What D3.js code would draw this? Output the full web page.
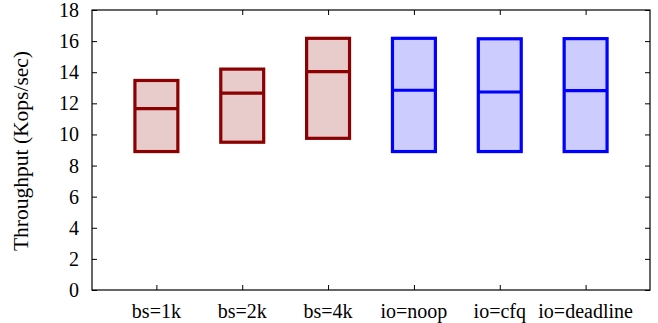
<!DOCTYPE html>
<html>
<head>
<meta charset="utf-8">
<script src="https://cdn.jsdelivr.net/npm/d3@7"></script>
<style>
  body { margin: 0; background: #fff; }
  text { font-family: "Liberation Serif", "Times New Roman", serif; }
</style>
</head>
<body>
<div id="chart"></div>
<script>
var
	categories = ["bs=1k", "bs=2k", "bs=4k", "io=noop", "io=cfq", "io=deadline"],
	boxLow     = [8.9, 9.5, 9.75, 8.9, 8.9, 8.9],
	boxMedian  = [11.66, 12.65, 14.04, 12.84, 12.73, 12.82],
	boxHigh    = [13.47, 14.2, 16.18, 16.18, 16.15, 16.16],
	groups     = ["bs", "bs", "bs", "io", "io", "io"],
	yTicks     = [0, 2, 4, 6, 8, 10, 12, 14, 16, 18];

var
	W = 658, H = 323,
	plotLeft = 92, plotRight = 650, plotTop = 10, plotBottom = 290,
	colors = { bs: "#8b0000", io: "#0000ff" },
	boxWidth = 0.5,

	x = d3.scaleLinear().domain([0.25, 6.75]).range([plotLeft, plotRight]),
	y = d3.scaleLinear().domain([0, 18]).range([plotBottom, plotTop]),

	svg = d3.select("#chart")
			.append("svg")
			.attr("width", W)
			.attr("height", H);

// boxes
var data = categories.map(function(c, i){
	return { name: c, pos: i + 1, lo: boxLow[i], med: boxMedian[i], hi: boxHigh[i], col: colors[groups[i]] };
});

var box = svg.append("g").selectAll("g")
	.data(data)
	.enter().append("g");

box.append("rect")
	.attr("x", function(d){ return x(d.pos - boxWidth/2); })
	.attr("y", function(d){ return y(d.hi); })
	.attr("width", function(d){ return x(d.pos + boxWidth/2) - x(d.pos - boxWidth/2); })
	.attr("height", function(d){ return y(d.lo) - y(d.hi); })
	.style("fill", function(d){ return d.col; })
	.style("fill-opacity", 0.2)
	.style("stroke", function(d){ return d.col; })
	.style("stroke-width", 3.2);

box.append("line")
	.attr("x1", function(d){ return x(d.pos - boxWidth/2); })
	.attr("x2", function(d){ return x(d.pos + boxWidth/2); })
	.attr("y1", function(d){ return y(d.med); })
	.attr("y2", function(d){ return y(d.med); })
	.style("stroke", function(d){ return d.col; })
	.style("stroke-width", 3.2);

// axes
var axisG = svg.append("g");

axisG.append("g")
	.attr("transform", "translate(" + plotLeft + ",0)")
	.call(d3.axisRight(y).tickValues(yTicks).tickSize(5).tickFormat(""))
	.call(function(g){ g.select(".domain").remove(); });

axisG.append("g")
	.attr("transform", "translate(" + plotRight + ",0)")
	.call(d3.axisLeft(y).tickValues(yTicks).tickSize(5).tickFormat(""))
	.call(function(g){ g.select(".domain").remove(); });

axisG.append("g")
	.attr("transform", "translate(0," + plotBottom + ")")
	.call(d3.axisTop(x).tickValues(d3.range(1, categories.length + 1)).tickSize(5).tickFormat(""))
	.call(function(g){ g.select(".domain").remove(); });

axisG.append("g")
	.attr("transform", "translate(0," + plotTop + ")")
	.call(d3.axisBottom(x).tickValues(d3.range(1, categories.length + 1)).tickSize(5).tickFormat(""))
	.call(function(g){ g.select(".domain").remove(); });

axisG.selectAll(".tick line").style("stroke", "#000").style("stroke-width", 1);

axisG.append("rect")
	.attr("x", plotLeft)
	.attr("y", plotTop)
	.attr("width", plotRight - plotLeft)
	.attr("height", plotBottom - plotTop)
	.style("fill", "none")
	.style("stroke", "#000")
	.style("stroke-width", 1.2);

// tick labels
svg.append("g").selectAll("text")
	.data(yTicks)
	.enter().append("text")
	.attr("x", 79)
	.attr("y", function(d){ return y(d); })
	.attr("dy", "0.35em")
	.attr("text-anchor", "end")
	.style("font-size", "20px")
	.text(function(d){ return d; });

svg.append("g").selectAll("text")
	.data(data)
	.enter().append("text")
	.attr("x", function(d){ return x(d.pos); })
	.attr("y", 318)
	.attr("text-anchor", "middle")
	.style("font-size", "20px")
	.text(function(d){ return d.name; });

svg.append("text")
	.attr("transform", "translate(28," + ((plotTop + plotBottom)/2 + 1) + ") rotate(-90)")
	.attr("text-anchor", "middle")
	.style("font-size", "21.5px")
	.text("Throughput (Kops/sec)");
</script>
</body>
</html>
